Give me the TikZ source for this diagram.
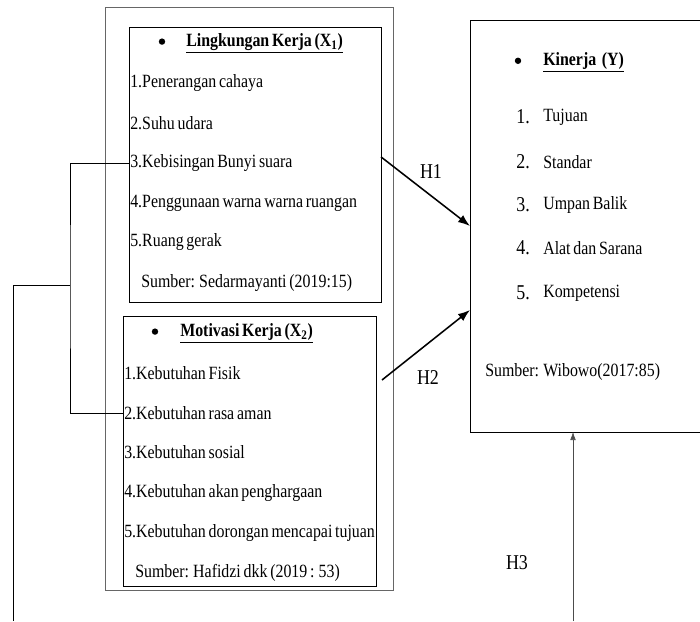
\documentclass[tikz,border=0pt]{standalone}
\usepackage{fontspec}
\setmainfont{Liberation Serif}[FakeStretch=0.85, WordSpace=0.7]
\usepackage{tikz}
\usetikzlibrary{arrows, arrows.meta, positioning}
\tikzstyle{arrow} = [line width=1.1pt,-{Latex[length=3mm,width=2.2mm]}]
\tikzstyle{thinarrow} = [draw=black!70,-{Latex[length=2mm,width=1.4mm]}]
\tikzstyle{box} = [draw, line width=0.5pt, inner sep=0pt, outer sep=0pt]
\tikzstyle{item} = [anchor=west, inner sep=0pt]
\tikzstyle{dot} = [circle, fill, inner sep=0pt, minimum size=0.16cm]
\def\hfont{\fontsize{15}{17}\selectfont}

\begin{document}
\begin{tikzpicture}[font=\fontsize{13.3}{15}\selectfont]
        \useasboundingbox (0,0) rectangle (17.5,-15.525);

        % the boxes
        \node[draw=black!60, line width=0.4pt, inner sep=0pt, minimum width=7.2cm, minimum height=14.575cm] (outer) at (6.225,-7.4625) {};
        \node[box, minimum width=6.3cm, minimum height=6.875cm] (lk) at (6.375,-4.1125) {};
        \node[box, minimum width=6.325cm, minimum height=6.75cm] (mk) at (6.2375,-11.275) {};
        \node[box, minimum width=5.8cm, minimum height=10.3cm] (kin) at (14.65,-5.65) {};

        % Lingkungan Kerja
        \node[dot] (lkdot) at (4.05,-1.04) {};
        \node[item] (lktitle) at (4.65,-1.075) {\textbf{\underline{Lingkungan Kerja (X\textsubscript{1})}}};
        \node[item] (l1) at (3.25,-2.075) {1.Penerangan cahaya};
        \node[item] (l2) at (3.25,-3.075) {2.Suhu udara};
        \node[item] (l3) at (3.25,-4.075) {3.Kebisingan Bunyi suara};
        \node[item] (l4) at (3.25,-5.075) {4.Penggunaan warna warna ruangan};
        \node[item] (l5) at (3.25,-6.05) {5.Ruang gerak};
        \node[item] (lksrc) at (3.525,-7.075) {Sumber: Sedarmayanti (2019:15)};

        % Motivasi Kerja
        \node[dot] (mkdot) at (3.875,-8.29) {};
        \node[item] (mktitle) at (4.5,-8.325) {\textbf{\underline{Motivasi Kerja (X\textsubscript{2})}}};
        \node[item] (m1) at (3.1,-9.325) {1.Kebutuhan Fisik};
        \node[item] (m2) at (3.1,-10.325) {2.Kebutuhan rasa aman};
        \node[item] (m3) at (3.1,-11.3) {3.Kebutuhan sosial};
        \node[item] (m4) at (3.1,-12.325) {4.Kebutuhan akan penghargaan};
        \node[item] (m5) at (3.1,-13.325) {5.Kebutuhan dorongan mencapai tujuan};
        \node[item] (mksrc) at (3.375,-14.325) {Sumber: Hafidzi dkk (2019 : 53)};

        % Kinerja
        \node[dot] (kdot) at (12.95,-1.52) {};
        \node[item] (ktitle) at (13.575,-1.55) {\textbf{\underline{Kinerja\ \ (Y)}}};
        \node[item] (kn1) at (12.9,-2.925) {\hfont 1.};
        \node[item] (k1) at (13.575,-2.925) {Tujuan};
        \node[item] (kn2) at (12.9,-4.05) {\hfont 2.};
        \node[item] (k2) at (13.575,-4.05) {Standar};
        \node[item] (kn3) at (12.9,-5.125) {\hfont 3.};
        \node[item] (k3) at (13.575,-5.125) {Umpan Balik};
        \node[item] (kn4) at (12.9,-6.2) {\hfont 4.};
        \node[item] (k4) at (13.575,-6.2) {Alat dan Sarana};
        \node[item] (kn5) at (12.9,-7.325) {\hfont 5.};
        \node[item] (k5) at (13.575,-7.325) {Kompetensi};
        \node[item] (ksrc) at (12.125,-9.3) {Sumber: Wibowo(2017:85)};

        % hypotheses
        \draw[arrow] ([yshift=0.19cm]lk.east) -- (kin.west);
        \draw[arrow] ([xshift=0.15cm,yshift=1.775cm]mk.east) -- ([yshift=-2.1cm]kin.west);
        \node[font=\hfont] (h1) at (10.775,-4.3) {H1};
        \node[font=\hfont] (h2) at (10.7,-9.45) {H2};
        \node[font=\hfont] (h3) at (12.925,-14.075) {H3};

        % bracket joining X1 and X2
        \coordinate (br) at (1.75,-7.125);
        \coordinate (foot) at (0.325,-15.525);
        \coordinate (h3foot) at (14.325,-15.525);
        \draw[line width=0.5pt] (l3.west) -| (br) |- (m2.west);
        \draw[line width=0.5pt] (br) -| (foot);
        \draw[thinarrow] (h3foot) -- (h3foot |- kin.south);
    \end{tikzpicture}
\end{document}
